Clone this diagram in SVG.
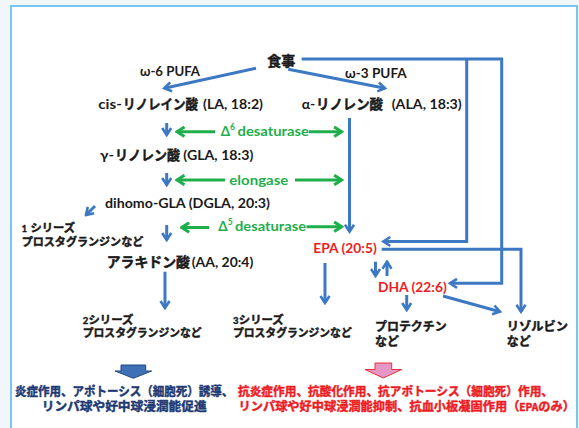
<svg xmlns="http://www.w3.org/2000/svg" width="579" height="428" viewBox="0 0 579 428">
<style>
.lat{font-family:Lato,"Open Sans","Liberation Sans",sans-serif;font-weight:700;fill:#1a1a1a}
.jp{font-family:"Noto Sans CJK JP","Noto Sans",sans-serif;font-weight:700;fill:#1a1a1a;stroke:#1a1a1a;stroke-width:0.45}
.g{fill:#1fae4b}
.r{fill:#ec1c24}
.jp.r{stroke:#ec1c24}
.nv{fill:#1d3a74}
.jp.nv{stroke:#1d3a74}
.bl{fill:none;stroke:#3d78c3;stroke-width:3}
.gl{fill:none;stroke:#1fae4b;stroke-width:3}
</style>
<defs>
<marker id="ab" viewBox="0 0 12 12" refX="10" refY="6" markerWidth="12" markerHeight="12" markerUnits="userSpaceOnUse" orient="auto">
<path d="M3,1.5 L10,6 L3,10.5" fill="none" stroke="#3d78c3" stroke-width="2.6"/>
</marker>
<marker id="ag" viewBox="0 0 12 12" refX="10" refY="6" markerWidth="12" markerHeight="12" markerUnits="userSpaceOnUse" orient="auto">
<path d="M2.5,1.2 L10,6 L2.5,10.8" fill="none" stroke="#1fae4b" stroke-width="3"/>
</marker>
</defs>
<rect x="0" y="0" width="579" height="428" fill="#f0f6fa"/>
<rect x="11" y="6" width="566" height="440" fill="#ffffff" stroke="#66c2ee" stroke-width="1.8"/>

<g id="connectors">
<line class="bl" x1="256" y1="68.3" x2="164.3" y2="88.3" marker-end="url(#ab)"/>
<line class="bl" x1="288.3" y1="69.3" x2="385" y2="88.3" marker-end="url(#ab)"/>
<polyline class="bl" points="301.7,59 501.7,59 501.7,283.3 450,283.3" marker-end="url(#ab)"/>
<polyline class="bl" points="466.7,59 466.7,241.5 383.3,241.5" marker-end="url(#ab)"/>
<line class="bl" x1="166.7" y1="123" x2="166.7" y2="135" marker-end="url(#ab)"/>
<line class="bl" x1="166.7" y1="173" x2="166.7" y2="185" marker-end="url(#ab)"/>
<line class="bl" x1="95" y1="206" x2="86" y2="215" marker-end="url(#ab)"/>
<line class="bl" x1="166.7" y1="225" x2="166.7" y2="240" marker-end="url(#ab)"/>
<line class="bl" x1="165" y1="271.7" x2="165" y2="308" marker-end="url(#ab)"/>
<line class="bl" x1="349.5" y1="118" x2="349.5" y2="231.7" marker-end="url(#ab)"/>
<polyline class="bl" points="381.7,249.3 521,249.3 521,311.7" marker-end="url(#ab)"/>
<line class="bl" x1="325" y1="263" x2="325" y2="303" marker-end="url(#ab)"/>
<line class="bl" x1="375.5" y1="261.7" x2="375.5" y2="276" marker-end="url(#ab)"/>
<line class="bl" x1="387" y1="276" x2="387" y2="261.7" marker-end="url(#ab)"/>
<line class="bl" x1="406.7" y1="295" x2="406.7" y2="310" marker-end="url(#ab)"/>
<line class="bl" x1="443" y1="296" x2="500" y2="311.7" marker-end="url(#ab)"/>
<line class="gl" x1="215" y1="131.7" x2="177" y2="131.7" marker-end="url(#ag)"/>
<line class="gl" x1="309" y1="131.7" x2="341.7" y2="131.7" marker-end="url(#ag)"/>
<line class="gl" x1="225" y1="180" x2="177" y2="180" marker-end="url(#ag)"/>
<line class="gl" x1="295" y1="180" x2="341.7" y2="180" marker-end="url(#ag)"/>
<line class="gl" x1="209" y1="227.5" x2="181.7" y2="227.5" marker-end="url(#ag)"/>
<line class="gl" x1="306.5" y1="226.7" x2="341.7" y2="226.7" marker-end="url(#ag)"/>
</g>

<g id="diet"><text class="jp" x="267.3" y="66" font-size="14" textLength="28">食事</text></g>
<g id="omega6"><text class="lat" x="140" y="76.2" font-size="13" textLength="60" lengthAdjust="spacingAndGlyphs">ω-6 PUFA</text></g>
<g id="omega3"><text class="lat" x="345" y="77.8" font-size="13" textLength="61.7" lengthAdjust="spacingAndGlyphs">ω-3 PUFA</text></g>

<g id="LA">
<text class="lat" x="98.3" y="108.6" font-size="12.5" textLength="23.5" lengthAdjust="spacingAndGlyphs">cis-</text>
<text class="jp" x="123" y="108.6" font-size="14" textLength="75" lengthAdjust="spacingAndGlyphs">リノレイン酸</text>
<text class="lat" x="203" y="108.6" font-size="13" textLength="60" lengthAdjust="spacingAndGlyphs">(LA, 18:2)</text>
</g>
<g id="ALA">
<text class="lat" x="301.7" y="108.6" font-size="13" textLength="13.5" lengthAdjust="spacingAndGlyphs">α-</text>
<text class="jp" x="316" y="108.6" font-size="14" textLength="67" lengthAdjust="spacingAndGlyphs">リノレン酸</text>
<text class="lat" x="391.7" y="108.6" font-size="13" textLength="70" lengthAdjust="spacingAndGlyphs">(ALA, 18:3)</text>
</g>
<g id="GLA">
<text class="lat" x="100" y="160.2" font-size="13" textLength="14" lengthAdjust="spacingAndGlyphs">γ-</text>
<text class="jp" x="115" y="160.2" font-size="14" textLength="65" lengthAdjust="spacingAndGlyphs">リノレン酸</text>
<text class="lat" x="183.3" y="160.2" font-size="13" textLength="70" lengthAdjust="spacingAndGlyphs">(GLA, 18:3)</text>
</g>
<g id="DGLA"><text class="lat" x="105" y="208" font-size="13.5" textLength="165" lengthAdjust="spacingAndGlyphs">dihomo-GLA (DGLA, 20:3)</text></g>
<g id="AA">
<text class="jp" x="106.7" y="267" font-size="14" textLength="83.3" lengthAdjust="spacingAndGlyphs">アラキドン酸</text>
<text class="lat" x="191.7" y="267" font-size="13" textLength="61.6" lengthAdjust="spacingAndGlyphs">(AA, 20:4)</text>
</g>
<g id="EPA"><text class="lat r" x="313.3" y="253.2" font-size="14" textLength="63.4" lengthAdjust="spacingAndGlyphs">EPA (20:5)</text></g>
<g id="DHA"><text class="lat r" x="378" y="292" font-size="14" textLength="68.7" lengthAdjust="spacingAndGlyphs">DHA (22:6)</text></g>

<g id="d6">
<text class="lat g" x="220.7" y="136.3" font-size="13.5">Δ<tspan font-size="8.5" dy="-6.3">6</tspan><tspan x="237.5" dy="6.3" textLength="71.5" lengthAdjust="spacingAndGlyphs">desaturase</tspan></text>
</g>
<g id="elongase"><text class="lat g" x="229.3" y="184.6" font-size="13.5" textLength="59" lengthAdjust="spacingAndGlyphs">elongase</text></g>
<g id="d5">
<text class="lat g" x="218.3" y="231.3" font-size="13.5">Δ<tspan font-size="8.5" dy="-6.3">5</tspan><tspan x="235" dy="6.3" textLength="71" lengthAdjust="spacingAndGlyphs">desaturase</tspan></text>
</g>

<g id="pg1">
<text class="jp" x="21.7" y="232.3" font-size="11"><tspan font-size="9" font-family="Lato,sans-serif">1 </tspan><tspan x="30.5" textLength="44.5" lengthAdjust="spacingAndGlyphs">シリーズ</tspan><tspan x="21.7" dy="13.7" textLength="121.6" lengthAdjust="spacingAndGlyphs">プロスタグランジンなど</tspan></text>
</g>
<g id="pg2">
<text class="jp" x="82.7" y="324.3" font-size="11"><tspan font-size="9.5" font-family="Lato,sans-serif">2</tspan><tspan x="88.5" textLength="44.8" lengthAdjust="spacingAndGlyphs">シリーズ</tspan><tspan x="82.7" dy="13" textLength="119" lengthAdjust="spacingAndGlyphs">プロスタグランジンなど</tspan></text>
</g>
<g id="pg3">
<text class="jp" x="233" y="324.3" font-size="11"><tspan font-size="9.5" font-family="Lato,sans-serif">3</tspan><tspan x="238.8" textLength="44.8" lengthAdjust="spacingAndGlyphs">シリーズ</tspan><tspan x="233" dy="13" textLength="118.7" lengthAdjust="spacingAndGlyphs">プロスタグランジンなど</tspan></text>
</g>
<g id="protectin">
<text class="jp" x="375" y="331.3" font-size="12"><tspan textLength="71.7" lengthAdjust="spacingAndGlyphs">プロテクチン</tspan><tspan x="375" dy="15">など</tspan></text>
</g>
<g id="resolvin">
<text class="jp" x="506.7" y="331.3" font-size="12"><tspan textLength="61.3" lengthAdjust="spacingAndGlyphs">リゾルビン</tspan><tspan x="506.7" dy="15">など</tspan></text>
</g>

<g id="effect-n6">
<polygon points="121,365 145.7,365 145.7,371 151.7,371 133.3,378.3 115,371 121,371" fill="#3e70b8" stroke="#23497f" stroke-width="1"/>
<text class="jp nv" x="15" y="396.3" font-size="12.5"><tspan textLength="218.3" lengthAdjust="spacingAndGlyphs">炎症作用、アポトーシス（細胞死）誘導、</tspan><tspan x="41.7" dy="15" textLength="165" lengthAdjust="spacingAndGlyphs">リンパ球や好中球浸潤能促進</tspan></text>
</g>
<g id="effect-n3">
<polygon points="375,363 391.7,363 391.7,369.5 401.7,369.5 383.3,378 365,369.5 375,369.5" fill="#e697c6" stroke="#e8303a" stroke-width="1"/>
<text class="jp r" x="238" y="396.3" font-size="12"><tspan textLength="315" lengthAdjust="spacingAndGlyphs">抗炎症作用、抗酸化作用、抗アポトーシス（細胞死）作用、</tspan><tspan x="238.5" dy="15" textLength="336.5" lengthAdjust="spacingAndGlyphs">リンパ球や好中球浸潤能抑制、抗血小板凝固作用（<tspan font-size="10">EPA</tspan>のみ）</tspan></text>
</g>
</svg>
